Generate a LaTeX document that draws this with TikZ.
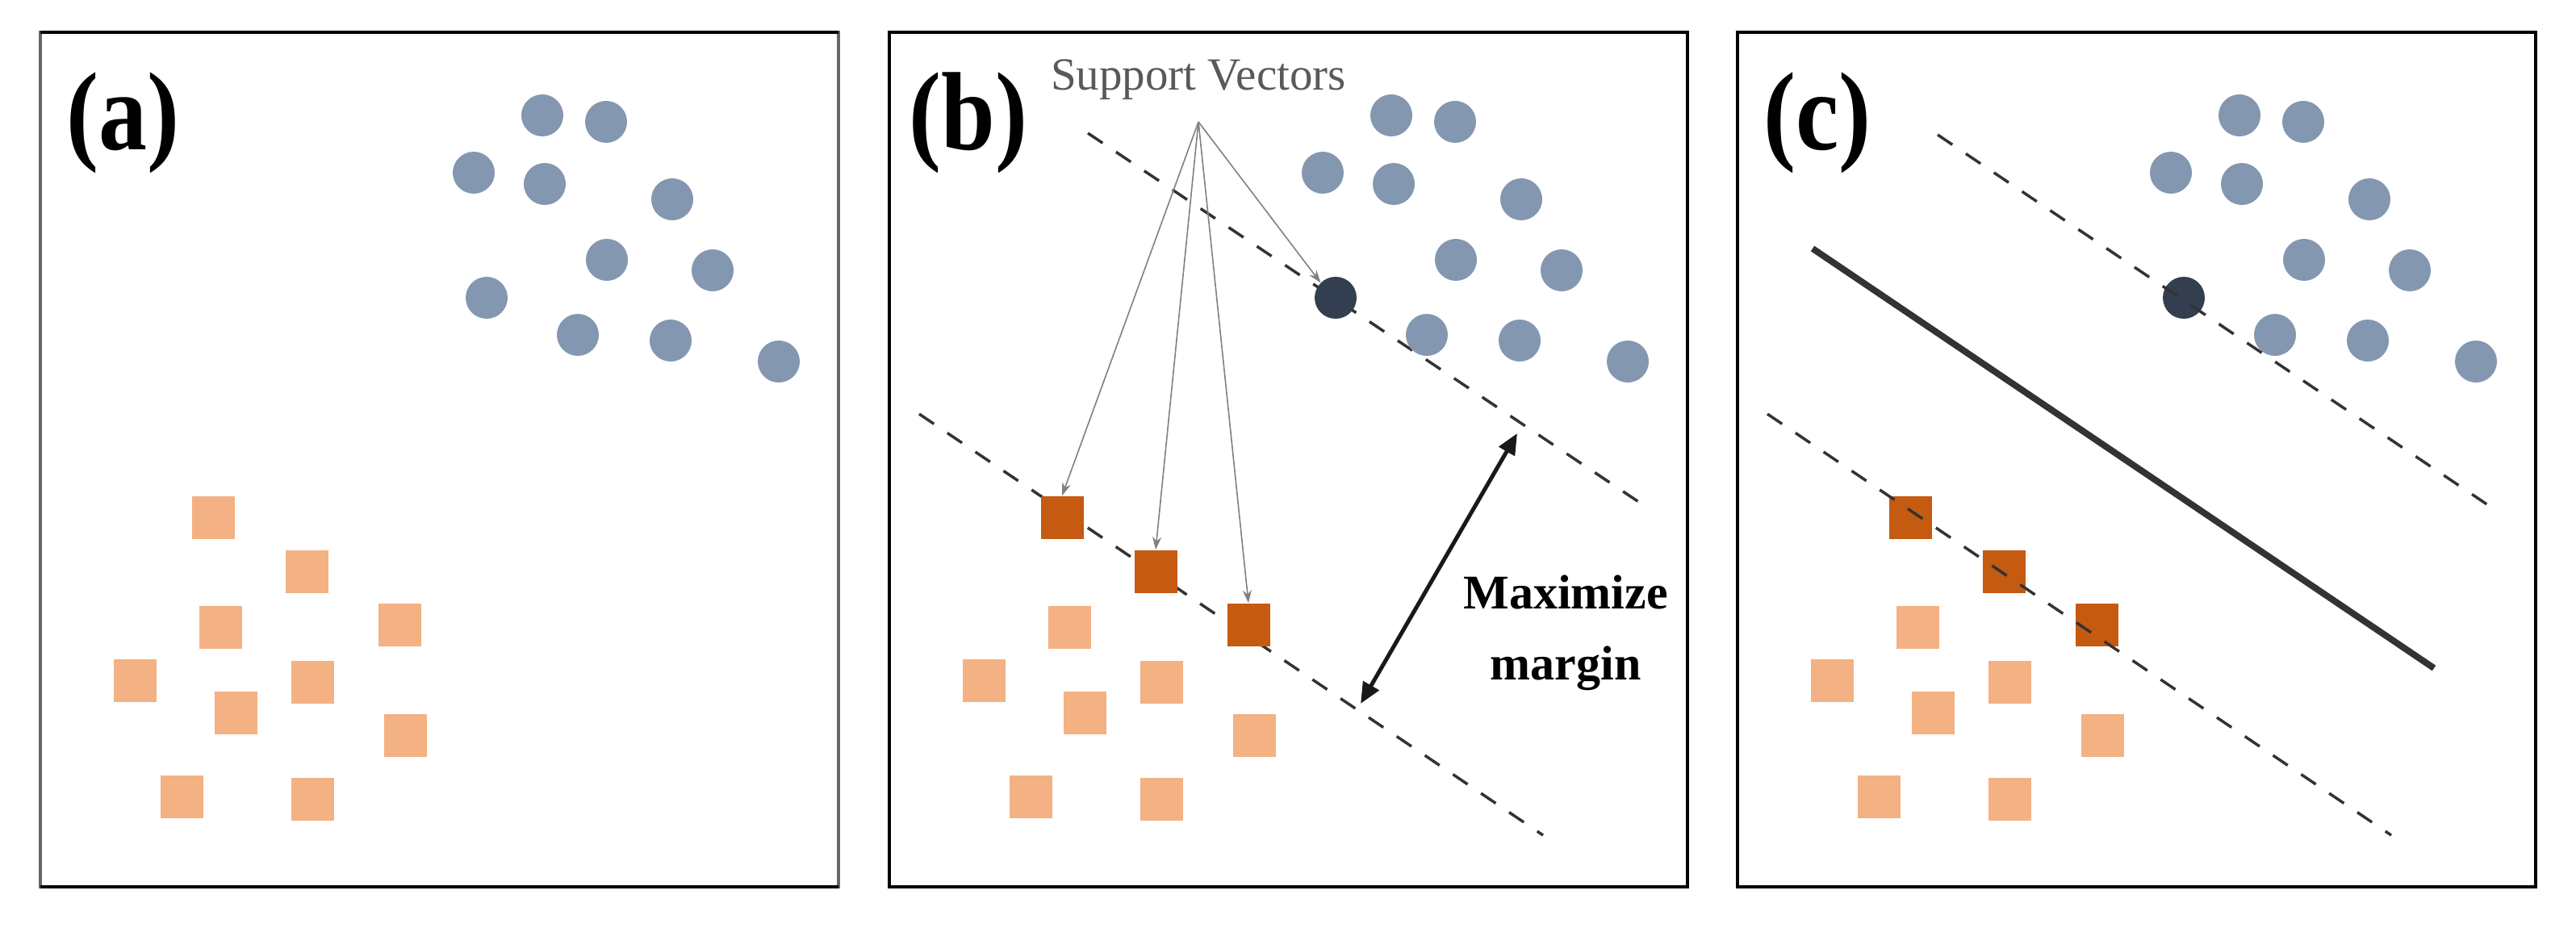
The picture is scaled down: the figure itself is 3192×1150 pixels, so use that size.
\documentclass[tikz,border=0pt]{standalone}
\usepackage{fontspec}
\setmainfont{Liberation Serif}
\usetikzlibrary{arrows.meta}
\definecolor{lor}{HTML}{F4B183}
\definecolor{dor}{HTML}{C55A11}
\definecolor{blu}{HTML}{8497B0}
\definecolor{nav}{HTML}{333F50}
\definecolor{dsh}{HTML}{333333}
\tikzset{
  pt/.style={circle,fill=blu,minimum size=52pt,inner sep=0pt},
  sq/.style={rectangle,fill=lor,minimum size=53pt,inner sep=0pt},
  sv/.style={fill=dor},
  svc/.style={fill=nav},
  frame/.style={draw=black,line width=3.5pt},
  dline/.style={dsh,line width=3.5pt,dash pattern=on 22pt off 20pt},
  lab/.style={font=\fontsize{120}{120}\selectfont\bfseries,inner sep=0pt},
  garrow/.style={draw=gray,line width=1.6pt,-{Stealth[length=16pt,width=11pt]}},
}
\newcommand\mypoints[2]{%
  \node[pt] (#1c1) at (622,103) {};
  \node[pt] (#1c2) at (701,111) {};
  \node[pt] (#1c3) at (537,174) {};
  \node[pt] (#1c4) at (625,188) {};
  \node[pt] (#1c5) at (783,207) {};
  \node[pt] (#1c6) at (702,282) {};
  \node[pt] (#1c7) at (833,295) {};
  \node[pt,#2c] (#1c8) at (553,329) {};
  \node[pt] (#1c9) at (666,375) {};
  \node[pt] (#1c10) at (781,382) {};
  \node[pt] (#1c11) at (915,408) {};
  \node[sq,#2] (#1s1) at (214,601) {};
  \node[sq,#2] (#1s2) at (330,668) {};
  \node[sq] (#1s3) at (223,737) {};
  \node[sq,#2] (#1s4) at (445,734) {};
  \node[sq] (#1s5) at (117,803) {};
  \node[sq] (#1s6) at (337,805) {};
  \node[sq] (#1s7) at (242,843) {};
  \node[sq] (#1s8) at (452,871) {};
  \node[sq] (#1s9) at (175,947) {};
  \node[sq] (#1s10) at (337,950) {};
}
\tikzset{nop/.style={},nopc/.style={}}
\begin{document}
\begin{tikzpicture}[x=1pt,y=-1pt]
\useasboundingbox (0,0) rectangle (3192,1150);
% panel a
\begin{scope}[shift={(50,40)}]
  \draw[frame,draw=black!60] (0,0) rectangle (989,1059);
  \draw[frame] (0,1059) -- (989,1059) (0,0) -- (989,0);
  \node[lab] (la) at (102,112) {\scalebox{1}[1.15]{(a)}};
  \mypoints{a}{nop}
\end{scope}
% panel b
\begin{scope}[shift={(1102,40)}]
  \draw[frame] (0,0) rectangle (989,1059);
  \node[lab] (lb) at (98,112) {\scalebox{1}[1.15]{(b)}};
  \coordinate (bu1) at (246,125); \coordinate (bu2) at (942,591);
  \coordinate (bl1) at (37,473); \coordinate (bl2) at (810,995);
  \draw[dline] (bu1) -- (bu2);
  \draw[dline] (bl1) -- (bl2);
  \mypoints{b}{sv}
  \node[font=\fontsize{57}{57}\selectfont,text=black!65,inner sep=0pt] (sv) at (383,59) {Support Vectors};
  \coordinate (apex) at (383,111);
  \draw[garrow] (apex) -- (bs1.north);
  \draw[garrow] (apex) -- (bs2.north);
  \draw[garrow] (apex) -- (bs4.north);
  \draw[garrow] (apex) -- (bc8.north west);
  \coordinate (m1) at (584,832); \coordinate (m2) at (778,497);
  \draw[line width=5pt,black!90,{Triangle[length=26pt,width=22pt]}-{Triangle[length=26pt,width=22pt]}] (m1) -- (m2);
  \node[font=\fontsize{60}{88}\selectfont\bfseries,align=center,inner sep=0pt] (mm) at (838,744) {Maximize\\margin};
\end{scope}
% panel c
\begin{scope}[shift={(2153,40)}]
  \draw[frame] (0,0) rectangle (989,1059);
  \node[lab] (lc) at (99,112) {\scalebox{1}[1.15]{(c)}};
  \coordinate (cu1) at (248,127); \coordinate (cu2) at (942,594);
  \coordinate (cl1) at (37,473); \coordinate (cl2) at (810,995);
  \coordinate (h1) at (93,268); \coordinate (h2) at (863,788);
  \mypoints{c}{sv}
  \draw[dline] (cu1) -- (cu2);
  \draw[dline] (cl1) -- (cl2);
  \draw[dsh,line width=8pt] (h1) -- (h2);
\end{scope}
\end{tikzpicture}
\end{document}
